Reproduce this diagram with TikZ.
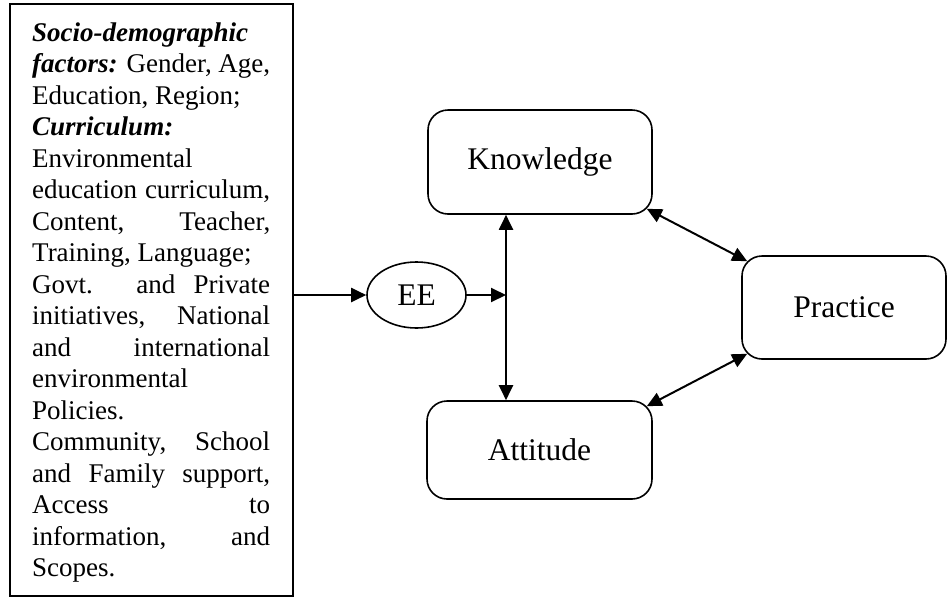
\documentclass[tikz,border=0pt]{standalone}
\usepackage{fontspec}
\setmainfont{Liberation Serif}
\usetikzlibrary{arrows.meta,shapes.geometric,calc}

% text block of the factors box: justified and ragged lines
\newlength{\factw}
\setlength{\factw}{238pt}
\newcommand{\jus}[1]{\makebox[\factw][s]{#1}}
\newcommand{\lft}[1]{\makebox[\factw][l]{#1}}
\newcommand{\bfit}[1]{\textbf{\textit{#1}}}

\tikzset{
  factbox/.style={draw, line width=1.6pt, minimum width=283pt, minimum height=592pt, inner sep=0pt},
  txtline/.style={anchor=base west, inner sep=0pt, font=\fontsize{27}{31.5}\selectfont},
  concept/.style={draw, line width=1.6pt, rounded corners=20pt, inner sep=0pt,
                  font=\fontsize{31.5}{36}\selectfont},
  eebox/.style={draw, ellipse, line width=1.6pt, minimum width=99pt, minimum height=66pt,
                inner sep=0pt, font=\fontsize{31.5}{36}\selectfont},
  link/.style={line width=2pt, -{Triangle[length=15pt,width=14pt]}},
  dlink/.style={line width=2pt, {Triangle[length=15pt,width=14pt]}-{Triangle[length=15pt,width=14pt]}}
}

\begin{document}
\begin{tikzpicture}[x=1pt, y=-1pt]
  \useasboundingbox (0,0) rectangle (948,598);

  % factors box
  \node[factbox] (factors) at (151.5,300) {};
  \node[txtline] (l1)  at (32,41)    {\lft{\bfit{Socio-demographic}}};
  \node[txtline] (l2)  at (32,72.5)  {\jus{\bfit{factors:} Gender, Age,}};
  \node[txtline] (l3)  at (32,104)   {\lft{Education, Region;}};
  \node[txtline] (l4)  at (32,135.5) {\lft{\bfit{Curriculum:}}};
  \node[txtline] (l5)  at (32,167)   {\lft{Environmental}};
  \node[txtline] (l6)  at (32,198.5) {\jus{education curriculum,}};
  \node[txtline] (l7)  at (32,230)   {\jus{Content, Teacher,}};
  \node[txtline] (l8)  at (32,261.5) {\lft{Training, Language;}};
  \node[txtline] (l9)  at (32,293)   {\jus{Govt. and Private}};
  \node[txtline] (l10) at (32,324.5) {\jus{initiatives, National}};
  \node[txtline] (l11) at (32,356)   {\jus{and international}};
  \node[txtline] (l12) at (32,387.5) {\lft{environmental}};
  \node[txtline] (l13) at (32,419)   {\lft{Policies.}};
  \node[txtline] (l14) at (32,450.5) {\jus{Community, School}};
  \node[txtline] (l15) at (32,482)   {\jus{and Family support,}};
  \node[txtline] (l16) at (32,513.5) {\jus{Access to}};
  \node[txtline] (l17) at (32,545)   {\jus{information, and}};
  \node[txtline] (l18) at (32,576.5) {\lft{Scopes.}};

  % concepts
  \node[eebox] (ee) at (416.5,295) {EE};
  \node[concept, minimum width=224pt, minimum height=104pt] (know) at (540,162) {Knowledge};
  \node[concept, minimum width=225pt, minimum height=98pt] (att) at (539.5,450) {Attitude};
  \node[concept, minimum width=204pt, minimum height=103pt] (prac) at (844,307.5) {Practice};

  \coordinate (j) at (506,295);

  % connectors
  \draw[link] (ee.west -| factors.east) -- (ee.west);
  \draw[link] (ee.east) -- (j);
  \draw[dlink] (know.south -| j) -- (att.north -| j);
  \draw[dlink] ($(know.south east)+(-6,-6)$) -- ($(prac.north west)+(6,6)$);
  \draw[dlink] ($(att.north east)+(-6,6)$) -- ($(prac.south west)+(6,-6)$);
\end{tikzpicture}
\end{document}
